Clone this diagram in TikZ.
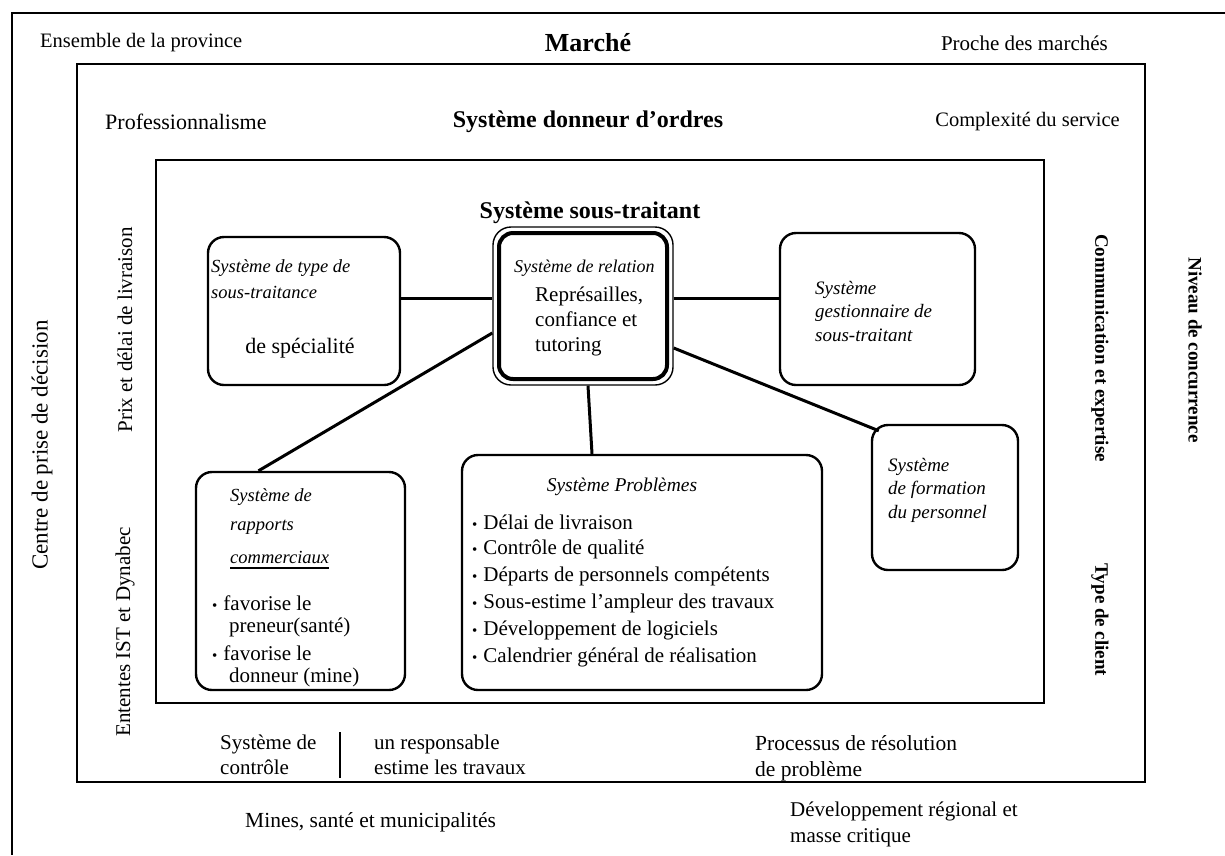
\documentclass[tikz,border=0pt]{standalone}
\usepackage{fontspec}
\setmainfont{Liberation Serif}
\begin{document}
\begin{tikzpicture}[x=1pt,y=-1pt,
  frame/.style={draw,line width=2.6pt,inner sep=0pt},
  sbox/.style={draw,line width=2.4pt,rounded corners=16pt,inner sep=0pt},
  conn/.style={line width=3pt},
  lbl/.style={inner sep=0pt,font=\fontsize{21}{25}\selectfont},
  lblL/.style={lbl,anchor=west},
  ttl/.style={inner sep=0pt,font=\fontsize{24}{28}\selectfont\bfseries},
  itl/.style={inner sep=0pt,anchor=west,font=\fontsize{18.5}{23}\selectfont\itshape},
  item/.style={inner sep=0pt,anchor=west,font=\fontsize{21}{25}\selectfont},
  rotL/.style={lbl,rotate=90},
  rotR/.style={inner sep=0pt,font=\fontsize{19}{23}\selectfont\bfseries,rotate=-90},
]
\newcommand{\bul}{{\fontsize{15}{15}\selectfont\textbullet}\hspace{6pt}}
\useasboundingbox (0,0) rectangle (1225,855);
% frames
\coordinate (otr) at (1225,13);
\coordinate (otl) at (12,13);
\coordinate (obl) at (12,855);
\draw[line width=2.6pt] (otr) -- (otl) -- (obl);
\node[frame,minimum width=1068pt,minimum height=718pt] (mid) at (611,423) {};
\node[frame,minimum width=888pt,minimum height=543pt] (inn) at (600,431.5) {};

% outer labels
\node[lblL,font=\fontsize{20.5}{25}\selectfont] (ens) at (40,43) {Ensemble de la province};
\node[ttl,font=\fontsize{26}{30}\selectfont\bfseries] (mar) at (588,43) {Marché};
\node[lbl,anchor=east] (pro) at (1108,43) {Proche des marchés};
\node[rotL,font=\fontsize{23}{27}\selectfont] (cen) at (42,445) {Centre de prise de décision};
\node[rotR] (niv) at (1195,350) {Niveau de concurrence};
\node[lblL,font=\fontsize{21.5}{25}\selectfont] (min) at (245,822) {Mines, santé et municipalités};
\node[lblL,align=left,anchor=north west,font=\fontsize{21}{26}\selectfont] (dev) at (790,802) {Développement régional et\\masse critique};

% middle labels
\node[lblL,font=\fontsize{22}{26}\selectfont] (prof) at (105,122) {Professionnalisme};
\node[ttl] (don) at (588,122) {Système donneur d'ordres};
\node[lbl,anchor=east,font=\fontsize{20.5}{24}\selectfont] (cpx) at (1120,122) {Complexité du service};
\node[rotL] (prix) at (125,330) {Prix et délai de livraison};
\node[rotL] (ent) at (125,632) {Ententes IST et Dynabec};
\node[rotR] (com) at (1100,348) {Communication et expertise};
\node[rotR] (typ) at (1100,620) {Type de client};
\node[lblL,align=left,anchor=north west] (sc) at (220,735) {Système de\\contrôle};
\coordinate (barT) at (340,732);
\coordinate (barB) at (340,778);
\draw[line width=2.4pt] (barT) -- (barB);
\node[lblL,align=left,anchor=north west] (resp) at (374,735) {un responsable\\estime les travaux};
\node[lblL,align=left,anchor=north west,font=\fontsize{21.5}{26}\selectfont] (proc) at (755,735) {Processus de résolution\\de problème};

% inner
\node[ttl] (sst) at (590,213) {Système sous-traitant};

% boxes
\node[sbox,minimum width=192pt,minimum height=148pt] (type) at (304,311) {};
\node[draw,line width=1.4pt,rounded corners=18pt,minimum width=180pt,minimum height=158pt,inner sep=0pt] (rel) at (583,306) {};
\node[draw,line width=4pt,rounded corners=14pt,minimum width=168pt,minimum height=146pt,inner sep=0pt] (relin) at (rel.center) {};
\node[sbox,minimum width=195pt,minimum height=152pt] (gest) at (877.5,309) {};
\node[sbox,minimum width=209pt,minimum height=218pt] (rap) at (300.5,581) {};
\node[sbox,minimum width=360pt,minimum height=235pt] (prob) at (642,572.5) {};
\node[sbox,minimum width=146pt,minimum height=145pt] (form) at (945,497.5) {};

% connectors
\draw[conn] ([yshift=8pt]rel.west -| type.east) -- ([yshift=8pt]rel.west);
\draw[conn] ([yshift=8pt]rel.east) -- ([yshift=8pt]rel.east -| gest.west);
\draw[conn] ([yshift=-27pt]rel.west) -- ([xshift=-42pt]rap.north);
\draw[conn] ([xshift=5pt]rel.south) -- ([xshift=-50pt]prob.north);
\draw[conn] ([yshift=-42pt]rel.east) -- ([xshift=8pt,yshift=-7pt]form.north west);

% type box text
\node[itl] (t1) at (211,268) {Système de type de};
\node[itl] (t2) at (211,292) {sous-traitance};
\node[lbl,font=\fontsize{22}{26}\selectfont] (t3) at (300,348) {de spécialité};
% relation text
\node[itl,font=\fontsize{18}{22}\selectfont\itshape] (r1) at (514,268) {Système de relation};
\node[lblL,align=left,anchor=north west,font=\fontsize{21}{25}\selectfont] (r2) at (535,287) {Représailles,\\confiance et\\tutoring};
% gest text
\node[itl,align=left,anchor=north west,font=\fontsize{19}{23.5}\selectfont\itshape] (g1) at (815,281) {Système\\gestionnaire de\\sous-traitant};
% rapports text
\node[itl] (p1) at (230,497) {Système de};
\node[itl] (p2) at (230,527) {rapports};
\node[itl] (p3) at (230,557) {commerciaux};
\draw[line width=2pt] ([yshift=-5pt]p3.south west) -- ([yshift=-5pt]p3.south east);
\node[item] (p4) at (212,603) {\bul favorise le};
\node[item] (p5) at (229,627) {preneur(santé)};
\node[item] (p6) at (212,653) {\bul favorise le};
\node[item] (p7) at (229,677) {donneur (mine)};
% problemes text
\node[itl,anchor=center,font=\fontsize{19.5}{23}\selectfont\itshape] (q0) at (622,487) {Système Problèmes};
\node[item] (q1) at (472,522) {\bul Délai de livraison};
\node[item] (q2) at (472,549) {\bul Contrôle de qualité};
\node[item] (q3) at (472,576) {\bul Départs de personnels compétents};
\node[item] (q4) at (472,603) {\bul Sous-estime l'ampleur des travaux};
\node[item] (q5) at (472,630) {\bul Développement de logiciels};
\node[item] (q6) at (472,657) {\bul Calendrier général de réalisation};
% formation text
\node[itl,align=left,anchor=north west,font=\fontsize{19}{23.5}\selectfont\itshape] (f1) at (888,458) {Système\\de formation\\du personnel};
\end{tikzpicture}
\end{document}
